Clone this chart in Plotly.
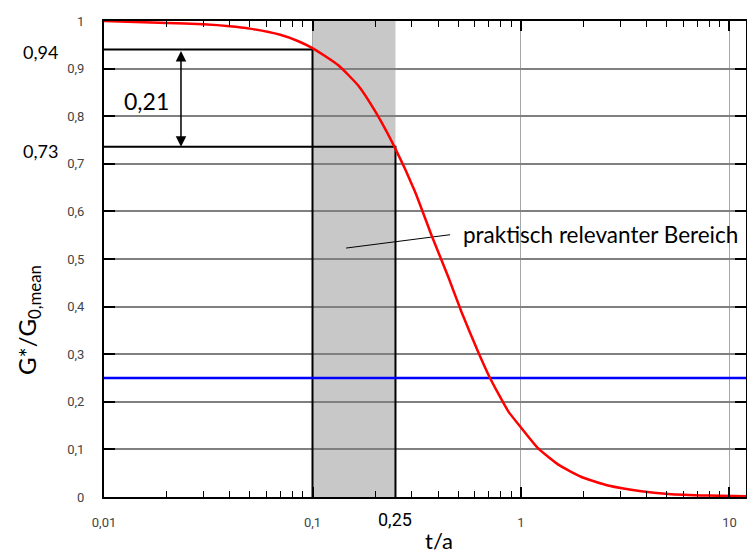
import math
import plotly.graph_objects as go

# ---- data ----
t_values = [0.01, 0.02, 0.03, 0.04, 0.05, 0.07, 0.085, 0.1, 0.133, 0.166, 0.2, 0.247,
            0.31, 0.373, 0.449, 0.519, 0.624, 0.71, 0.869, 1.0, 1.21, 1.51, 1.95,
            2.62, 3.78, 5.08, 7.89, 12.0]
g_values = [1.0, 0.996, 0.993, 0.989, 0.984, 0.971, 0.958, 0.943, 0.907, 0.864, 0.81, 0.736,
            0.642, 0.549, 0.461, 0.388, 0.304, 0.25, 0.180, 0.146, 0.102, 0.068, 0.042,
            0.024, 0.012, 0.0065, 0.003, 0.0015]

x_min, x_max = 0.01, 12.0
blue_level = 0.25
t_low, t_high = 0.1, 0.25          # praktisch relevanter Bereich
g_at_low, g_at_high = 0.94, 0.736  # G*/G0 at t_low and t_high
arrow_t = 0.0234
pointer_x = [0.145, 0.457]
pointer_y = [0.523, 0.551]

x_tickvals = [0.01, 0.1, 1, 10]
x_ticktext = ["0,01", "0,1", "1", "10"]
y_tickvals = [i / 10 for i in range(11)]
y_ticktext = ["0", "0,1", "0,2", "0,3", "0,4", "0,5", "0,6", "0,7", "0,8", "0,9", "1"]
x_minor = [d * 10 ** e for e in (-2, -1, 0) for d in range(2, 10)]
x_minor = [v for v in x_minor if v <= x_max]

LABEL_FONT = "Lato, 'Noto Sans', sans-serif"
TICK_FONT = "Roboto, 'Noto Sans', sans-serif"

fig = go.Figure()

# black reference lines
fig.add_trace(go.Scatter(x=[x_min, t_low, t_low], y=[g_at_low, g_at_low, 0],
                         mode="lines", line=dict(color="black", width=2),
                         hoverinfo="skip", showlegend=False))
fig.add_trace(go.Scatter(x=[x_min, t_high, t_high], y=[g_at_high, g_at_high, 0],
                         mode="lines", line=dict(color="black", width=2),
                         hoverinfo="skip", showlegend=False))
# pointer line
fig.add_trace(go.Scatter(x=pointer_x, y=pointer_y, mode="lines",
                         line=dict(color="black", width=1),
                         hoverinfo="skip", showlegend=False))
# blue level
fig.add_trace(go.Scatter(x=[x_min, x_max], y=[blue_level, blue_level], mode="lines",
                         line=dict(color="#0000ff", width=2.5),
                         hoverinfo="skip", showlegend=False))
# red curve
fig.add_trace(go.Scatter(x=t_values, y=g_values, mode="lines",
                         line=dict(color="#ff0000", width=2.5, shape="spline", smoothing=0.5),
                         showlegend=False))

# gray band
fig.add_shape(type="rect", xref="x", yref="y", x0=t_low, x1=t_high, y0=0, y1=1,
              fillcolor="#c8c8c8", line=dict(width=0), layer="below")

C = dict(xanchor="center", yanchor="middle", showarrow=False)
# annotations
fig.add_annotation(xref="paper", yref="y", x=-0.0985, y=g_at_low, yshift=-2,
                   text="0,94", font=dict(family=LABEL_FONT, size=18, color="black"), **C)
fig.add_annotation(xref="paper", yref="y", x=-0.0985, y=g_at_high, yshift=-4,
                   text="0,73", font=dict(family=LABEL_FONT, size=18, color="black"), **C)
fig.add_annotation(xref="paper", yref="paper", x=0.0659, y=0.832,
                   text="0,21", font=dict(family=LABEL_FONT, size=23, color="black"), **C)
fig.add_annotation(xref="x", yref="paper", x=math.log10(t_high), y=-0.047,
                   text="0,25", font=dict(family=TICK_FONT, size=18, color="black"), **C)
fig.add_annotation(xref="paper", yref="y", x=0.5553, y=pointer_y[1], xanchor="left",
                   yanchor="middle", showarrow=False,
                   text="praktisch relevanter Bereich",
                   font=dict(family=LABEL_FONT, size=22.5, color="black"))
# double arrow
fig.add_annotation(xref="x", yref="y", x=math.log10(arrow_t), y=g_at_high,
                   axref="x", ayref="y", ax=math.log10(arrow_t), ay=g_at_low,
                   text="", showarrow=True, arrowhead=2, startarrowhead=2,
                   arrowside="end+start", arrowsize=1.4, startarrowsize=1.4,
                   arrowwidth=1.5, arrowcolor="black", standoff=0, startstandoff=0)
# axis titles
fig.add_annotation(xref="paper", yref="paper", x=0.522, y=-0.092,
                   text="t/a", font=dict(family=LABEL_FONT, size=22, color="black"), **C)
fig.add_annotation(xref="paper", yref="paper", x=-0.1168, y=0.372, textangle=-90,
                   text="G*/G<sub>0,mean</sub>",
                   font=dict(family=LABEL_FONT, size=24, color="black"), **C)

fig.update_layout(
    width=755, height=556,
    margin=dict(l=96, r=17, t=13, b=67, autoexpand=False),
    paper_bgcolor="white", plot_bgcolor="white",
    showlegend=False,
    xaxis=dict(type="log", range=[math.log10(x_min), math.log10(x_max)],
               automargin=False,
               tickmode="array", tickvals=x_tickvals, ticktext=x_ticktext,
               ticks="inside", ticklen=10, tickwidth=1.5, tickcolor="black",
               showline=True, linewidth=2, linecolor="black", mirror="ticks",
               showgrid=True, gridcolor="#a6a6a6", gridwidth=1.2, zeroline=False,
               ticklabelstandoff=12,
               tickfont=dict(family=TICK_FONT, size=13, color="#444444"),
               minor=dict(tickmode="array", tickvals=x_minor, ticks="inside", ticklen=6,
                          tickwidth=1, tickcolor="black", showgrid=False)),
    yaxis=dict(range=[0, 1], automargin=False,
               tickmode="array", tickvals=y_tickvals, ticktext=y_ticktext,
               ticks="inside", ticklen=11, tickwidth=1.5, tickcolor="black",
               showline=True, linewidth=2, linecolor="black", mirror="ticks",
               showgrid=True, gridcolor="#808080", gridwidth=2, zeroline=False,
               ticklabelstandoff=15,
               tickfont=dict(family=TICK_FONT, size=13, color="#444444")),
)

fig.write_html("out.html")
